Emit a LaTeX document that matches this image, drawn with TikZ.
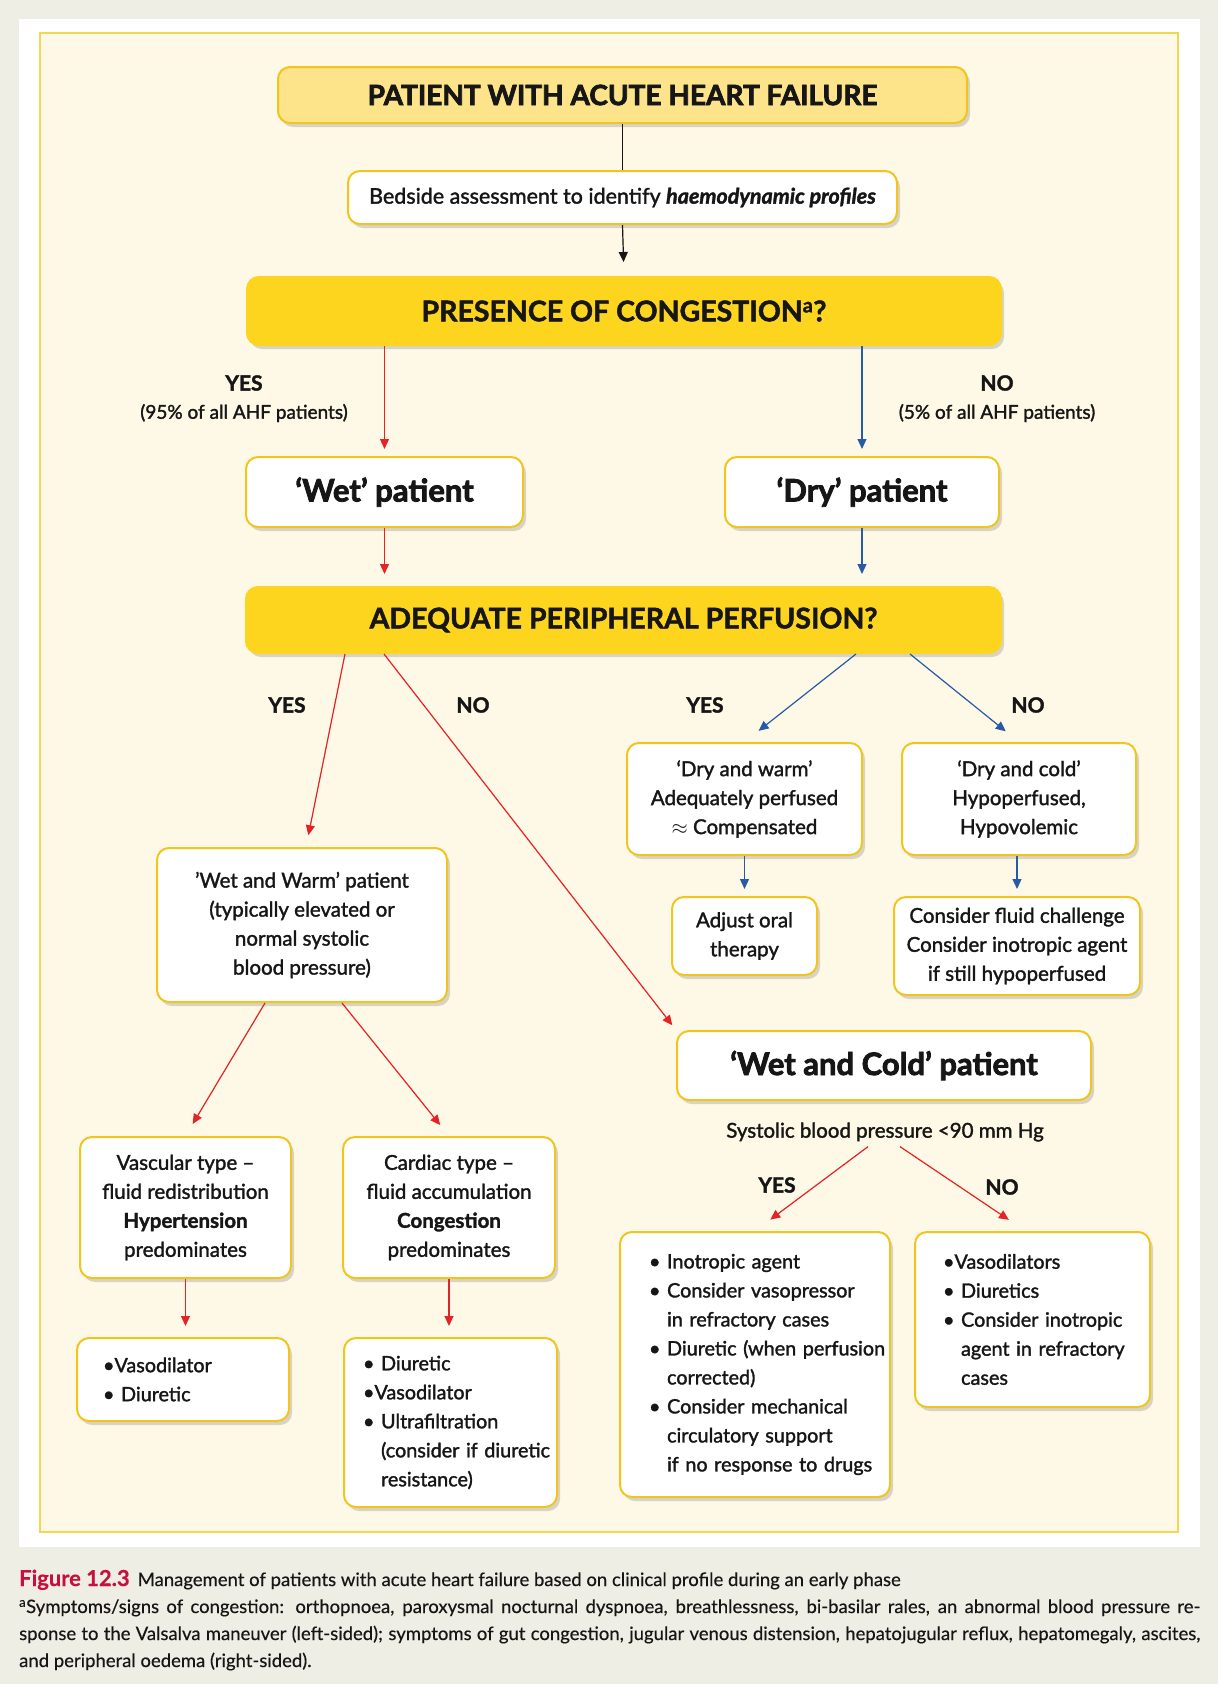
\documentclass[tikz,border=0pt]{standalone}
\usepackage{fontspec}
\setmainfont{Lato}
\newfontfamily\medfont[FakeBold=1.6]{Lato}
\newfontfamily\heavyfont[FakeBold=2.6]{Lato}
\newfontfamily\capfont[FakeBold=0.4]{Lato}
\usetikzlibrary{arrows.meta,shadows,calc}
\definecolor{pagebg}{RGB}{238,238,229}
\definecolor{cream}{RGB}{254,249,231}
\definecolor{creamline}{RGB}{245,214,80}
\definecolor{gold}{RGB}{242,197,30}
\definecolor{lightgold}{RGB}{253,227,138}
\definecolor{deepgold}{RGB}{253,212,30}
\definecolor{arrred}{RGB}{228,35,38}
\definecolor{arrblue}{RGB}{40,90,165}
\definecolor{figred}{RGB}{200,16,60}
\definecolor{txt}{RGB}{22,22,22}
\tikzset{
  shad/.style={drop shadow={shadow xshift=3pt, shadow yshift=-4pt, fill=black!50, opacity=0.3}},
  box/.style={draw=gold, line width=2pt, rounded corners=12pt, fill=white, shad,
    inner sep=0pt, align=center, text=txt, font=\medfont\fontsize{20.5}{29}\selectfont},
  listbox/.style={box, align=left, font=\medfont\fontsize{19.8}{29}\selectfont},
  titlebox/.style={box, font=\heavyfont\bfseries\fontsize{31}{34}\selectfont},
  topbox/.style={box, fill=lightgold, draw=gold, font=\heavyfont\bfseries\fontsize{28}{32}\selectfont},
  bigbox/.style={box, fill=deepgold, draw=deepgold, font=\medfont\bfseries\fontsize{28.5}{32}\selectfont},
  lab/.style={text=txt, font=\medfont\bfseries\fontsize{21}{25}\selectfont, inner sep=2pt},
  sublab/.style={text=txt, font=\medfont\fontsize{19}{24}\selectfont, inner sep=2pt},
  conn/.style={line width=1.2pt, -{Triangle[length=10pt,width=9pt]}},
  rarrow/.style={conn, draw=arrred, fill=arrred},
  barrow/.style={conn, draw=arrblue, fill=arrblue},
  karrow/.style={conn, draw=txt, fill=txt},
  kline/.style={line width=1.2pt, draw=txt},
  captxt/.style={anchor=base west, inner sep=0pt, text=txt, font=\capfont\fontsize{18.5}{27}\selectfont}
}
\begin{document}
\begin{tikzpicture}[x=1pt,y=-1pt]
\useasboundingbox (0,0) rectangle (1218,1684);
\fill[pagebg] (0,0) rectangle (1218,1684);
\fill[white] (19,19) rectangle (1200,1547);
\filldraw[fill=cream, draw=creamline, line width=1.2pt] (40,33) rectangle (1178,1532);

% nodes
\node[topbox, minimum width=689pt, minimum height=56pt] (top) at (622.5,95) {PATIENT WITH ACUTE HEART FAILURE};
\node[box, minimum width=549pt, minimum height=53pt, font=\medfont\fontsize{21.5}{29}\selectfont] (bed) at (622.5,197.5) {Bedside assessment to identify \textbf{\textit{haemodynamic profiles}}};
\node[bigbox, minimum width=754pt, minimum height=68pt] (pres) at (624,311) {PRESENCE OF CONGESTION\textsuperscript{a}?};
\node[lab] (yes1) at (244,383) {YES};
\node[sublab] (pct1) at (244,413) {(95\% of all AHF patients)};
\node[lab] (no1) at (997,383) {NO};
\node[sublab] (pct2) at (997,413) {(5\% of all AHF patients)};
\node[titlebox, minimum width=277pt, minimum height=70pt] (wet) at (384.5,492) {‘Wet’ patient};
\node[titlebox, minimum width=274pt, minimum height=70pt] (dry) at (862,492) {‘Dry’ patient};
\node[bigbox, minimum width=755pt, minimum height=66pt] (perf) at (623.5,620) {ADEQUATE PERIPHERAL PERFUSION?};
\node[lab] (yes2) at (287,705) {YES};
\node[lab] (no2) at (473,705) {NO};
\node[lab] (yes3) at (705,705) {YES};
\node[lab] (no3) at (1028,705) {NO};
\node[box, minimum width=235pt, minimum height=112pt] (dw) at (744.5,799) {‘Dry and warm’\\Adequately perfused\\$\approx$ Compensated};
\node[box, minimum width=234pt, minimum height=112pt] (dc) at (1019,799) {‘Dry and cold’\\Hypoperfused,\\Hypovolemic};
\node[box, minimum width=145pt, minimum height=78pt] (adj) at (744.5,936) {Adjust oral\\therapy};
\node[box, minimum width=246pt, minimum height=98pt] (fluid) at (1017,946) {Consider fluid challenge\\Consider inotropic agent\\if still hypoperfused};
\node[box, minimum width=290pt, minimum height=154pt] (ww) at (302,925) {’Wet and Warm’ patient\\(typically elevated or\\normal systolic\\blood pressure)};
\node[titlebox, minimum width=414pt, minimum height=69pt] (wc) at (884,1065.5) {‘Wet and Cold’ patient};
\node[sublab, font=\medfont\fontsize{20.5}{24}\selectfont, inner sep=5pt] (sbp) at (885,1132) {Systolic blood pressure <90 mm Hg};
\node[lab] (yes4) at (777,1185) {YES};
\node[lab] (no4) at (1002,1187) {NO};
\node[box, minimum width=211pt, minimum height=141pt] (vasc) at (185.5,1207.5) {Vascular type –\\fluid redistribution\\\textbf{Hypertension}\\predominates};
\node[box, minimum width=212pt, minimum height=141pt] (card) at (449,1207.5) {Cardiac type –\\fluid accumulation\\\textbf{Congestion}\\predominates};
\node[listbox, minimum width=212pt, minimum height=83pt, text width=160pt] (vdb) at (183,1379.5)
  {\mbox{\textbullet Vasodilator}\\\mbox{\textbullet\ Diuretic}};
\node[listbox, minimum width=213pt, minimum height=169pt, text width=175pt] (dib) at (450.5,1422.5)
  {\mbox{\textbullet\ Diuretic}\\\mbox{\textbullet Vasodilator}\\\mbox{\textbullet\ Ultrafiltration}\\\mbox{\phantom{\textbullet\ }(consider if diuretic}\\\mbox{\phantom{\textbullet\ }resistance)}};
\node[listbox, minimum width=270pt, minimum height=265pt, text width=212pt] (ino) at (755,1364.5)
  {\mbox{\textbullet\ Inotropic agent}\\\mbox{\textbullet\ Consider vasopressor}\\\mbox{\phantom{\textbullet\ }in refractory cases}\\\mbox{\textbullet\ Diuretic (when perfusion}\\\mbox{\phantom{\textbullet\ }corrected)}\\\mbox{\textbullet\ Consider mechanical}\\\mbox{\phantom{\textbullet\ }circulatory support}\\\mbox{\phantom{\textbullet\ }if no response to drugs}};
\node[listbox, minimum width=235pt, minimum height=175pt, text width=179pt] (vds) at (1032.5,1319.5)
  {\mbox{\textbullet Vasodilators}\\\mbox{\textbullet\ Diuretics}\\\mbox{\textbullet\ Consider inotropic}\\\mbox{\phantom{\textbullet\ }agent in refractory}\\\mbox{\phantom{\textbullet\ }cases}};

% caption
\node[captxt] (cap1) at (19,1586) {{\color{figred}\bfseries\fontsize{22}{22}\selectfont Figure 12.3}\hspace{8pt}Management of patients with acute heart failure based on clinical profile during an early phase};
\node[captxt] (cap2) at (19,1613) {\makebox[1181pt][s]{\textsuperscript{a}Symptoms/signs of congestion: orthopnoea, paroxysmal nocturnal dyspnoea, breathlessness, bi-basilar rales, an abnormal blood pressure re-}};
\node[captxt] (cap3) at (19,1640) {\makebox[1181pt][s]{sponse to the Valsalva maneuver (left-sided); symptoms of gut congestion, jugular venous distension, hepatojugular reflux, hepatomegaly, ascites,}};
\node[captxt] (cap4) at (19,1667) {and peripheral oedema (right-sided).};

% connectors
\draw[kline] (top.south) -- (bed.north);
\draw[karrow, shorten >=14pt] (bed.south) -- (pres.north);
\draw[rarrow, shorten >=7pt] (pres.south -| wet.north) -- (wet.north);
\draw[barrow, shorten >=7pt] (pres.south -| dry.north) -- (dry.north);
\draw[rarrow, shorten >=12pt] (wet.south) -- (perf.north -| wet.south);
\draw[barrow, shorten >=12pt] (dry.south) -- (perf.north -| dry.south);
\draw[rarrow, shorten >=12pt] ([xshift=-278.5pt]perf.south) -- ([xshift=4pt]ww.north);
\draw[rarrow, shorten >=6pt] ([xshift=-239.5pt]perf.south) -- (wc.north west);
\draw[barrow, shorten >=18pt] ([xshift=232.5pt]perf.south) -- (dw.north);
\draw[barrow, shorten >=17pt] ([xshift=286.5pt]perf.south) -- (dc.north);
\draw[barrow, shorten >=7pt] (dw.south) -- (adj.north);
\draw[barrow, shorten >=7pt] (fluid.north |- dc.south) -- (fluid.north);
\draw[rarrow, shorten >=14pt] ([xshift=-37pt]ww.south) -- (vasc.north);
\draw[rarrow, shorten >=14pt] ([xshift=40pt]ww.south) -- (card.north);
\draw[rarrow, shorten >=11pt] (vasc.south) -- (vasc.south |- vdb.north);
\draw[rarrow, shorten >=11pt] (card.south) -- (card.south |- dib.north);
\draw[rarrow, shorten >=19pt] ([xshift=-17pt]sbp.south) -- (ino.north);
\draw[rarrow, shorten >=20pt] ([xshift=15pt]sbp.south) -- ([xshift=-7pt]vds.north);
\end{tikzpicture}
\end{document}
